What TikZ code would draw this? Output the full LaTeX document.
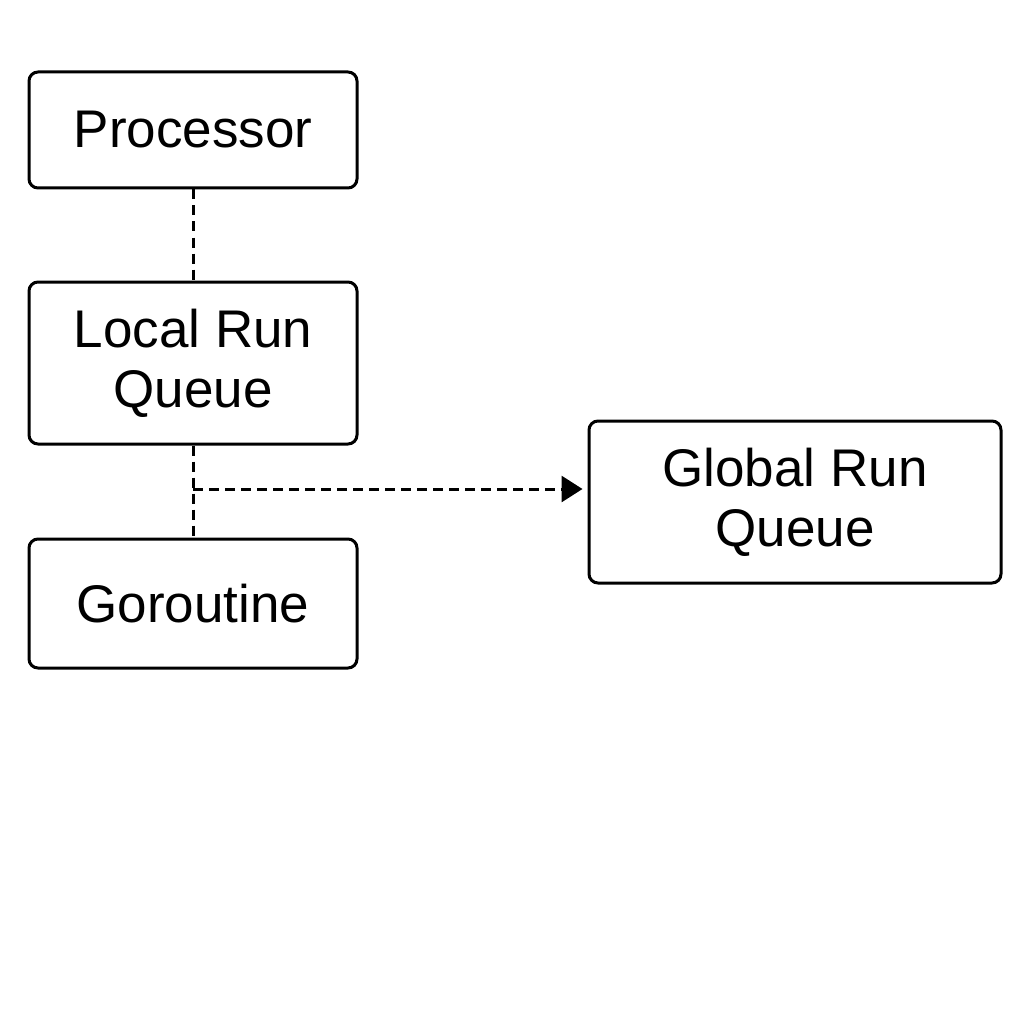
\documentclass[tikz,border=0pt]{standalone}
\usepackage{fontspec}
\setmainfont{Liberation Sans}
\usetikzlibrary{arrows.meta}
\begin{document}
\begin{tikzpicture}[x=1pt,y=-1pt,
  box/.style={draw=black, line width=3pt, rounded corners=9pt, align=center, font=\fontsize{53}{60}\selectfont, inner sep=0pt},
  conn/.style={line width=3pt, dash pattern=on 10pt off 6pt}]
\useasboundingbox (0,0) rectangle (1024,1024);
\node[box, minimum width=328pt, minimum height=116pt] (proc) at (193,130) {Processor};
\node[box, minimum width=328pt, minimum height=162pt] (lrq) at (193,363) {Local Run\\Queue};
\node[box, minimum width=328pt, minimum height=129pt] (gor) at (193,603.5) {Goroutine};
\node[box, minimum width=412pt, minimum height=162pt] (grq) at (795,502) {Global Run\\Queue};
\coordinate (j) at (193,489);
\draw[conn] (proc.south) -- (lrq.north);
\draw[conn] (lrq.south) -- (gor.north);
\draw[conn, -{Triangle[length=21pt,width=26pt]}] (j) -- ([xshift=-5pt]grq.west |- j);
\end{tikzpicture}
\end{document}
